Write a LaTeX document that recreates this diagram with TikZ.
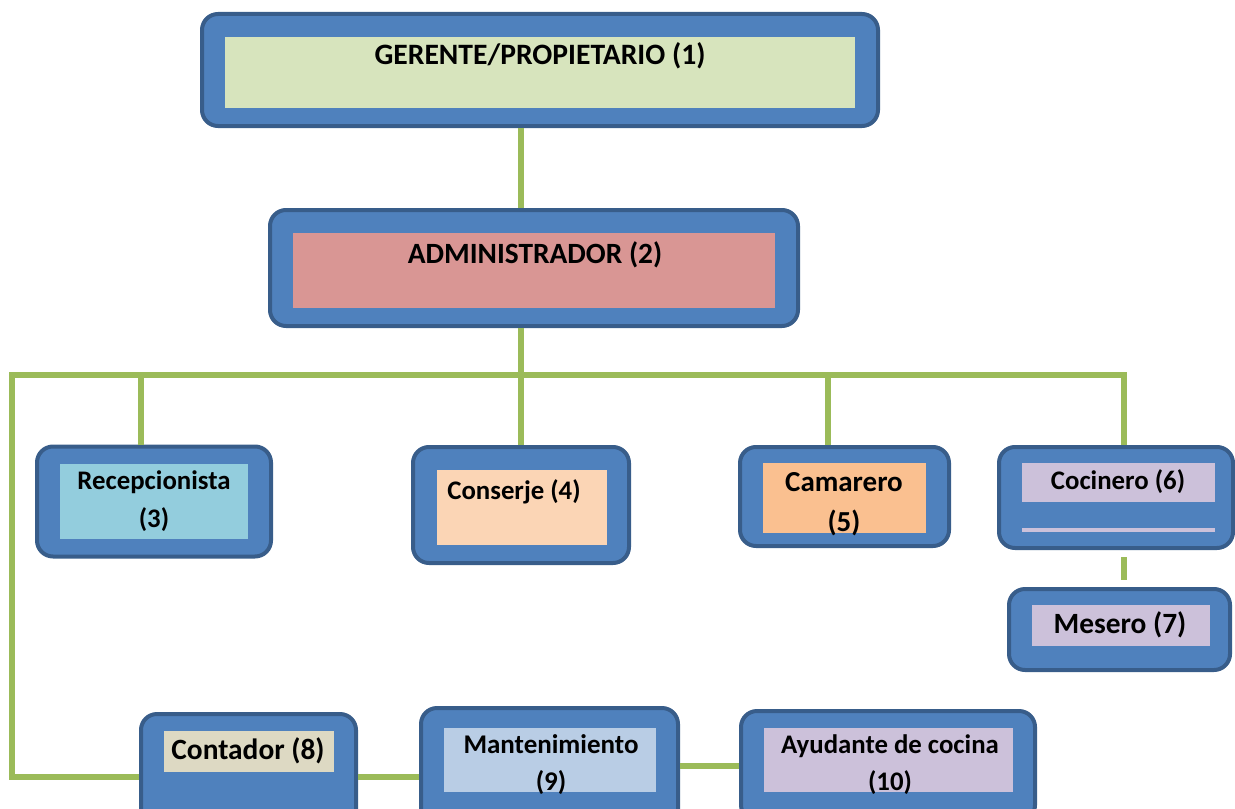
\documentclass[tikz,border=0pt]{standalone}
\usepackage{fontspec}
\setmainfont{Carlito}
\usepackage{tikz}
\definecolor{boxblue}{HTML}{4F81BD}
\definecolor{boxedge}{HTML}{385D8A}
\definecolor{linkgreen}{HTML}{9BBB59}
\definecolor{fillger}{HTML}{D7E4BD}
\definecolor{filladm}{HTML}{D99694}
\definecolor{fillrec}{HTML}{93CDDD}
\definecolor{fillcon}{HTML}{FBD5B5}
\definecolor{fillcam}{HTML}{FAC090}
\definecolor{filllila}{HTML}{CCC1DA}
\definecolor{fillcont}{HTML}{DDD9C3}
\definecolor{fillmant}{HTML}{B9CDE5}

\begin{document}
\begin{tikzpicture}[
  x=0.5pt, y=-0.5pt,
  outer/.style={draw=boxedge, fill=boxblue, line width=2pt, rounded corners=8pt, inner sep=0pt},
  inner/.style={draw=none, inner sep=0pt},
  lbl/.style={font=\bfseries\fontsize{13.4}{15}\selectfont, text=black, align=center, inner sep=0pt},
  big/.style={font=\bfseries\fontsize{14.7}{16}\selectfont},
  link/.style={draw=linkgreen, line width=3pt}
]
\clip (0,0) rectangle (1235,808);

% --- top levels ---
\node[outer, minimum width=338pt, minimum height=56pt] (ger) at (540,70) {};
\node[inner, fill=fillger, minimum width=315pt, minimum height=35.5pt] (gerin) at (540,72.5) {};
\node[lbl, font=\bfseries\fontsize{14.8}{16}\selectfont] (gert) at (540,56) {GERENTE/PROPIETARIO (1)};

\node[outer, minimum width=264pt, minimum height=58pt] (adm) at (534,268) {};
\node[inner, fill=filladm, minimum width=241pt, minimum height=37.5pt] (admin) at (534,270.5) {};
\node[lbl, font=\bfseries\fontsize{14.7}{16}\selectfont] (admt) at (535,255) {ADMINISTRADOR (2)};

% --- second row ---
\node[outer, minimum width=117pt, minimum height=55pt] (rec) at (154,501.5) {};
\node[inner, fill=fillrec, minimum width=94pt, minimum height=37.5pt] (recin) at (154,501.5) {};
\node[lbl, font=\bfseries\fontsize{13.4}{19}\selectfont] (rect) at (154,501) {Recepcionista\\(3)};

\node[outer, minimum width=108pt, minimum height=58pt] (con) at (521,505) {};
\node[inner, fill=fillcon, minimum width=85pt, minimum height=37.5pt] (conin) at (522,507.5) {};
\node[lbl] (cont) at (514,492) {Conserje (4)};

\node[outer, minimum width=104.5pt, minimum height=49.5pt] (cam) at (844.5,496.5) {};
\node[inner, fill=fillcam, minimum width=81.5pt, minimum height=35pt] (camin) at (844.5,498) {};
\node[lbl, font=\bfseries\fontsize{14.5}{20}\selectfont] (camt) at (844,504) {Camarero\\(5)};

\node[outer, minimum width=117pt, minimum height=50.5pt] (coc) at (1116,497.5) {};
\node[inner, fill=filllila, minimum width=96.5pt, minimum height=19.5pt] (cocin) at (1118.5,482.5) {};
\node[inner, fill=filllila, minimum width=96.5pt, minimum height=2pt] (cocbar) at (1118.5,530) {};
\node[lbl] (coct) at (1118,482) {Cocinero (6)};

\node[outer, minimum width=110.5pt, minimum height=40.5pt] (mes) at (1119.5,629.5) {};
\node[inner, fill=filllila, minimum width=89pt, minimum height=20.5pt] (mesin) at (1121,625.5) {};
\node[lbl, big] (mest) at (1120,625) {Mesero (7)};

% --- bottom row ---
\node[outer, minimum width=107.5pt, minimum height=63pt] (ctd) at (248.5,777) {};
\node[inner, fill=fillcont, minimum width=85pt, minimum height=20.5pt] (ctdin) at (249,751.5) {};
\node[lbl, big] (ctdt) at (248,751) {Contador (8)};

\node[outer, minimum width=128.5pt, minimum height=69pt] (mant) at (549.5,777) {};
\node[inner, fill=fillmant, minimum width=106pt, minimum height=32pt] (mantin) at (550,760) {};
\node[lbl, font=\bfseries\fontsize{13.5}{18.5}\selectfont] (mantt) at (551,764.5) {Mantenimiento\\(9)};

\node[outer, minimum width=147pt, minimum height=55pt] (ayu) at (888,766) {};
\node[inner, fill=filllila, minimum width=124.5pt, minimum height=32pt] (ayuin) at (888.5,760) {};
\node[lbl, font=\bfseries\fontsize{13.4}{18.5}\selectfont] (ayut) at (890,764.5) {Ayudante de cocina\\(10)};

% --- connectors ---
\coordinate (bus) at (521,375);
\coordinate (corner) at (12,375);
\draw[link] ([xshift=-9.5pt]ger.south) -- ([xshift=-6.5pt]adm.north);
\draw[link] ([xshift=-6.5pt]adm.south) -- (bus);
\draw[link] (bus) -| ([xshift=-6.5pt]rec.north);
\draw[link] (bus) -- (con.north);
\draw[link] (bus) -| ([xshift=-8.25pt]cam.north);
\draw[link] (bus) -| ([xshift=4pt]coc.north);
\draw[link] (bus) -- (corner) |- (ctd.west);
\draw[link] ([xshift=4pt,yshift=-3.5pt]coc.south) -- ([xshift=2.25pt,yshift=3.5pt]mes.north);
\draw[link] (ctd.east) -- (mant.west);
\draw[link] (mant.east |- ayu.west) -- (ayu.west);

\end{tikzpicture}
\end{document}
